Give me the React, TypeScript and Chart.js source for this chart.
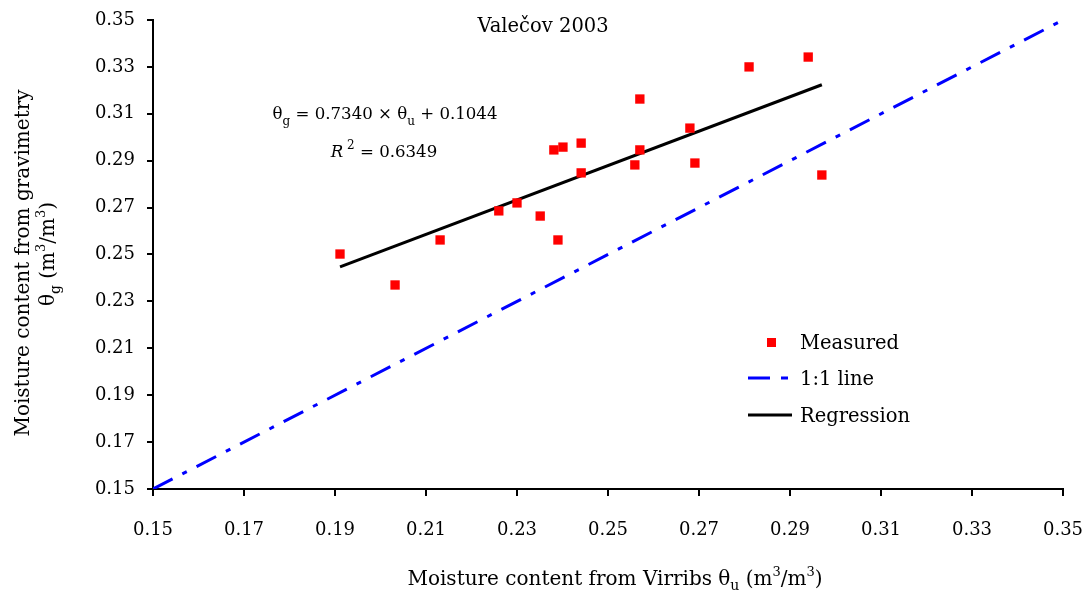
import React, { useEffect, useRef } from "react";
import { Chart, registerables } from "chart.js";

Chart.register(...registerables);

const measuredX = [0.1911, 0.2032, 0.2131, 0.2260, 0.2300, 0.2351, 0.2381, 0.2401, 0.2390, 0.2441, 0.2441, 0.2559, 0.2570, 0.2570, 0.2680, 0.2691, 0.2810, 0.2940, 0.2970];
const measuredY = [0.2502, 0.2370, 0.2562, 0.2686, 0.2720, 0.2664, 0.2946, 0.2958, 0.2562, 0.2975, 0.2848, 0.2882, 0.2946, 0.3163, 0.3039, 0.2890, 0.3300, 0.3342, 0.2839];

const oneToOneX = [0.15, 0.35];
const oneToOneY = [0.15, 0.35];

const regressionX = [0.1911, 0.2970];
const regressionY = [0.2447, 0.3224];

const tickValues = [0.15, 0.17, 0.19, 0.21, 0.23, 0.25, 0.27, 0.29, 0.31, 0.33, 0.35];

const chartTitle = "Valečov 2003";
const legendLabels = ["Measured", "1:1 line", "Regression"];

const FONT = "'DejaVu Serif', 'Liberation Serif', serif";
const DASH = [22, 11, 5, 11];

type Run = { t: string; size: number; dy: number; italic?: boolean };

function runsWidth(ctx: CanvasRenderingContext2D, runs: Run[]) {
  let w = 0;
  for (const r of runs) {
    ctx.font = `${r.italic ? "italic " : ""}${r.size}px ${FONT}`;
    w += ctx.measureText(r.t).width;
  }
  return w;
}

function drawRuns(ctx: CanvasRenderingContext2D, runs: Run[], x: number, y: number, align: "left" | "center") {
  let cx = align === "center" ? x - runsWidth(ctx, runs) / 2 : x;
  ctx.textAlign = "left";
  ctx.textBaseline = "alphabetic";
  for (const r of runs) {
    ctx.font = `${r.italic ? "italic " : ""}${r.size}px ${FONT}`;
    ctx.fillText(r.t, cx, y + r.dy);
    cx += ctx.measureText(r.t).width;
  }
}

const annotations = {
  id: "annotations",
  afterDraw(chart: any) {
    const ctx: CanvasRenderingContext2D = chart.ctx;
    ctx.save();
    ctx.fillStyle = "#000";
    const T = 20; // titles
    const E = 16.6; // equation
    const L = 19.5; // legend

    // chart title
    drawRuns(ctx, [{ t: chartTitle, size: 19.5, dy: 0 }], 543, 32, "center");

    // equation
    drawRuns(ctx, [
      { t: "θ", size: E, dy: 0 },
      { t: "g", size: 12, dy: 6 },
      { t: " = 0.7340 × θ", size: E, dy: 0 },
      { t: "u", size: 12, dy: 6 },
      { t: " + 0.1044", size: E, dy: 0 },
    ], 385, 119, "center");
    drawRuns(ctx, [
      { t: "R", size: E, dy: 0, italic: true },
      { t: " 2", size: 12, dy: -8 },
      { t: " = 0.6349", size: E, dy: 0 },
    ], 384, 157, "center");

    // x title
    drawRuns(ctx, [
      { t: "Moisture content from Virribs θ", size: T, dy: 0 },
      { t: "u", size: 14, dy: 5 },
      { t: " (m", size: T, dy: 0 },
      { t: "3", size: 13, dy: -9 },
      { t: "/m", size: T, dy: 0 },
      { t: "3", size: 13, dy: -9 },
      { t: ")", size: T, dy: 0 },
    ], 615, 585, "center");

    // y title
    ctx.save();
    ctx.rotate(-Math.PI / 2);
    drawRuns(ctx, [{ t: "Moisture content from gravimetry", size: T, dy: 0 }], -263, 29, "center");
    drawRuns(ctx, [
      { t: "θ", size: T, dy: 0 },
      { t: "g", size: 14, dy: 6 },
      { t: " (m", size: T, dy: 0 },
      { t: "3", size: 13, dy: -9 },
      { t: "/m", size: T, dy: 0 },
      { t: "3", size: 13, dy: -9 },
      { t: ")", size: T, dy: 0 },
    ], -254, 54, "center");
    ctx.restore();

    // legend
    ctx.fillStyle = "#FF0000";
    ctx.fillRect(767, 338, 9, 9);
    ctx.strokeStyle = "#0000FF";
    ctx.lineWidth = 3;
    ctx.lineCap = "butt";
    ctx.beginPath();
    ctx.moveTo(748, 378); ctx.lineTo(770, 378);
    ctx.moveTo(781, 378); ctx.lineTo(788, 378);
    ctx.stroke();
    ctx.strokeStyle = "#000";
    ctx.beginPath();
    ctx.moveTo(748, 415); ctx.lineTo(792, 415);
    ctx.stroke();
    ctx.fillStyle = "#000";
    drawRuns(ctx, [{ t: legendLabels[0], size: L, dy: 0 }], 800, 349, "left");
    drawRuns(ctx, [{ t: legendLabels[1], size: L, dy: 0 }], 800, 385, "left");
    drawRuns(ctx, [{ t: legendLabels[2], size: L, dy: 0 }], 800, 422, "left");
    ctx.restore();
  },
};

export default function App() {
  const ref = useRef<HTMLCanvasElement | null>(null);
  useEffect(() => {
    if (!ref.current) return;
    Chart.defaults.font.family = FONT;
    Chart.defaults.color = "#000";
    const chart = new Chart(ref.current, {
      type: "scatter",
      data: {
        datasets: [
          {
            label: legendLabels[1],
            type: "line",
            data: oneToOneX.map((x, i) => ({ x, y: oneToOneY[i] })),
            borderColor: "#0000FF",
            borderWidth: 3,
            borderDash: DASH,
            pointRadius: 0,
            fill: false,
            order: 3,
          },
          {
            label: legendLabels[2],
            type: "line",
            data: regressionX.map((x, i) => ({ x, y: regressionY[i] })),
            borderColor: "#000",
            borderWidth: 3,
            pointRadius: 0,
            fill: false,
            order: 2,
          },
          {
            label: legendLabels[0],
            data: measuredX.map((x, i) => ({ x, y: measuredY[i] })),
            pointStyle: "rect",
            pointRadius: 6.6,
            pointBackgroundColor: "#FF0000",
            pointBorderColor: "#FF0000",
            pointBorderWidth: 0,
            order: 1,
          },
        ],
      } as any,
      options: {
        animation: false,
        responsive: true,
        maintainAspectRatio: false,
        layout: { padding: { top: 20, right: 23, left: 0, bottom: 0 } },
        plugins: { legend: { display: false }, tooltip: { enabled: false } },
        scales: {
          x: {
            type: "linear",
            min: 0.15,
            max: 0.35,
            afterFit: (s: any) => { s.height = 103; s.paddingLeft = 0; s.paddingRight = 0; },
            afterBuildTicks: (s: any) => { s.ticks = tickValues.map((v) => ({ value: v })); },
            ticks: { font: { size: 18, family: FONT }, color: "#000", padding: 24, maxRotation: 0, callback: (v: any) => Number(v).toFixed(2) },
            grid: { drawOnChartArea: false, drawTicks: true, tickLength: 7, color: "#000", lineWidth: 2 },
            border: { display: true, color: "#000", width: 2 },
          },
          y: {
            type: "linear",
            min: 0.15,
            max: 0.35,
            afterFit: (s: any) => { s.width = 153; s.paddingTop = 0; s.paddingBottom = 0; },
            afterBuildTicks: (s: any) => { s.ticks = tickValues.map((v) => ({ value: v })); },
            ticks: { font: { size: 18, family: FONT }, color: "#000", padding: 12, callback: (v: any) => Number(v).toFixed(2) },
            grid: { drawOnChartArea: false, drawTicks: true, tickLength: 6, color: "#000", lineWidth: 2 },
            border: { display: true, color: "#000", width: 2 },
          },
        },
      } as any,
      plugins: [annotations],
    });
    return () => chart.destroy();
  }, []);
  return (
    <div style={{ position: "absolute", left: 0, top: 0, width: 1086, height: 592, background: "#fff" }}>
      <canvas ref={ref} />
    </div>
  );
}
